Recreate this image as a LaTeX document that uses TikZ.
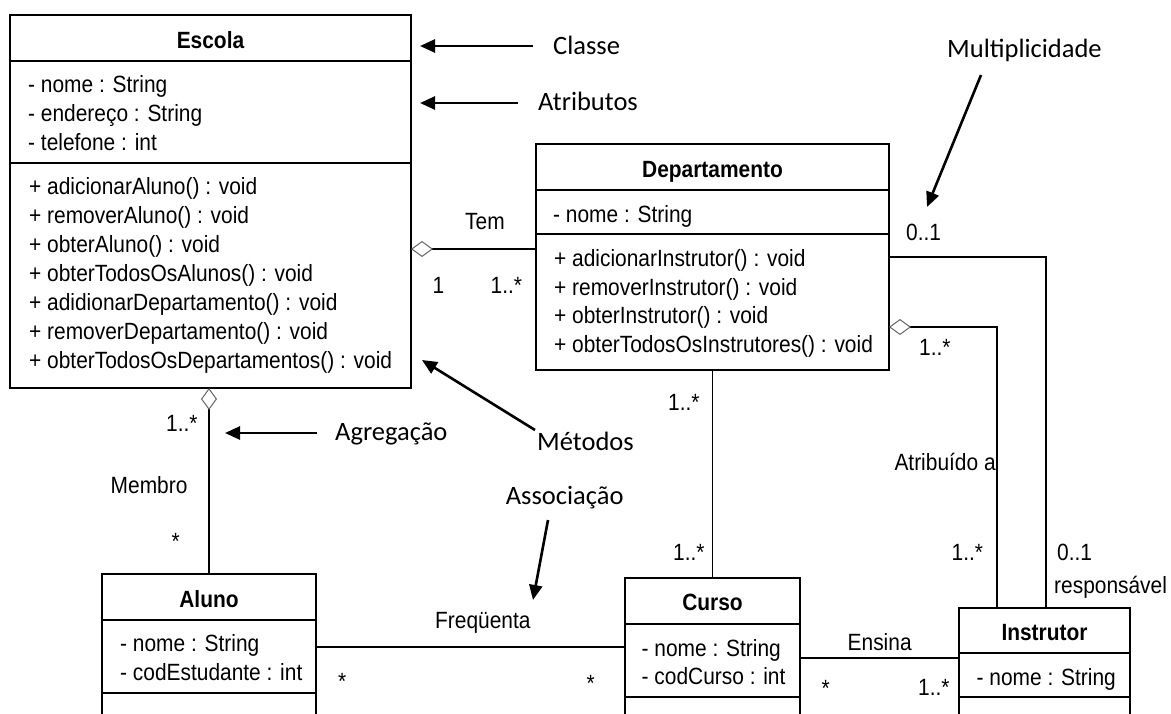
\documentclass[tikz,border=0pt]{standalone}
\usepackage{fontspec}
\setmainfont{Liberation Sans}
\newfontfamily\umlfont[FakeStretch=0.89]{Liberation Sans}
\newfontfamily\notefont{Carlito}
\usetikzlibrary{arrows.meta}
\tikzset{
  uml/.style={font=\umlfont\fontsize{23.5}{27}\selectfont, inner sep=0pt, anchor=base west},
  umltitle/.style={font=\umlfont\bfseries\fontsize{23.5}{27}\selectfont, inner sep=0pt, anchor=base},
  note/.style={font=\notefont\fontsize{26.5}{30}\selectfont, inner sep=0pt, anchor=base west},
  classbox/.style={draw, line width=2.8pt, anchor=north west, inner sep=0pt, outer sep=0pt, rectangle},
  sepline/.style={line width=1.3pt},
  conn/.style={line width=1.3pt},
  agg/.style={conn, {Diamond[open, fill=white, length=22pt, width=16pt, line width=1pt, color=black!60]}-},
  pointer/.style={line width=2.6pt, -{Triangle[length=15pt, width=13pt]}},
}
\begin{document}
\begin{tikzpicture}[x=1pt,y=-1pt]
\useasboundingbox (0,0) rectangle (1171,713);
\clip (0,0) rectangle (1171,713);
\fill[white] (0,0) rectangle (1171,713);

% ---------- Escola ----------
\node[classbox, minimum width=401pt, minimum height=373pt] (escola) at (10,15) {};
\draw[sepline] (escola.west |- 0,61) -- (escola.east |- 0,61);
\draw[sepline] (escola.west |- 0,163) -- (escola.east |- 0,163);
\node[umltitle] (tEscola) at (210.5,48) {Escola};
\node[uml] (e1) at (28,92.5) {- nome : String};
\node[uml] (e2) at (28,121.5) {- endereço : String};
\node[uml] (e3) at (28,150.5) {- telefone : int};
\node[uml] (m1) at (29,194.5) {+ adicionarAluno() : void};
\node[uml] (m2) at (29,223.5) {+ removerAluno() : void};
\node[uml] (m3) at (29,252.5) {+ obterAluno() : void};
\node[uml] (m4) at (29,281.5) {+ obterTodosOsAlunos() : void};
\node[uml] (m5) at (29,310.5) {+ adidionarDepartamento() : void};
\node[uml] (m6) at (29,339.5) {+ removerDepartamento() : void};
\node[uml] (m7) at (29,368.5) {+ obterTodosOsDepartamentos() : void};

% ---------- Departamento ----------
\node[classbox, minimum width=353pt, minimum height=226pt] (dep) at (536,144) {};
\draw[sepline] (dep.west |- 0,190) -- (dep.east |- 0,190);
\draw[sepline] (dep.west |- 0,234) -- (dep.east |- 0,234);
\node[umltitle] (tDep) at (712.5,177) {Departamento};
\node[uml] (d1) at (553,222) {- nome : String};
\node[uml] (dm1) at (554,266.5) {+ adicionarInstrutor() : void};
\node[uml] (dm2) at (554,295) {+ removerInstrutor() : void};
\node[uml] (dm3) at (554,323.5) {+ obterInstrutor() : void};
\node[uml] (dm4) at (554,352) {+ obterTodosOsInstrutores() : void};

% ---------- Aluno ----------
\node[classbox, minimum width=214pt, minimum height=160pt] (aluno) at (102,574) {};
\draw[sepline] (aluno.west |- 0,620) -- (aluno.east |- 0,620);
\draw[sepline] (aluno.west |- 0,693) -- (aluno.east |- 0,693);
\node[umltitle] (tAluno) at (209,607) {Aluno};
\node[uml] (a1) at (120,651.5) {- nome : String};
\node[uml] (a2) at (120,680) {- codEstudante : int};

% ---------- Curso ----------
\node[classbox, minimum width=175pt, minimum height=160pt] (curso) at (625,578) {};
\draw[sepline] (curso.west |- 0,624) -- (curso.east |- 0,624);
\draw[sepline] (curso.west |- 0,697) -- (curso.east |- 0,697);
\node[umltitle] (tCurso) at (712.5,610.5) {Curso};
\node[uml] (c1) at (641.5,656) {- nome : String};
\node[uml] (c2) at (641.5,684) {- codCurso : int};

% ---------- Instrutor ----------
\node[classbox, minimum width=171pt, minimum height=130pt] (instr) at (959,608) {};
\draw[sepline] (instr.west |- 0,653) -- (instr.east |- 0,653);
\draw[sepline] (instr.west |- 0,697) -- (instr.east |- 0,697);
\node[umltitle] (tInstr) at (1044.5,640) {Instrutor};
\node[uml] (i1) at (976.5,685) {- nome : String};

% ---------- Connectors ----------
\draw[agg] (escola.east |- 0,249) -- (dep.west |- 0,249);
\draw[agg] (aluno.north |- escola.south) -- (aluno.north);
\draw[conn] (aluno.east |- 0,647) -- (curso.west |- 0,647);
\draw[conn] (dep.south) -- (curso.north);
\draw[conn] (curso.east |- 0,658) -- (instr.west |- 0,658);
\draw[conn] (dep.east |- 0,257) -| (instr.north -| 1046,0);
\draw[agg] (dep.east |- 0,327) -| (instr.north -| 997,0);

% ---------- Connector labels ----------
\node[uml] (lTem) at (465,229.5) {Tem};
\node[uml] (lTem1) at (432.5,293.3) {1};
\node[uml] (lTem2) at (490.5,293.3) {1..*};
\node[uml] (lD01) at (906,240.5) {0..1};
\node[uml] (lD1n) at (919,355) {1..*};
\node[uml] (lMem1) at (166,431.5) {1..*};
\node[uml] (lMem) at (110.5,493.3) {Membro};
\node[uml] (lMemS) at (171.5,549) {*};
\node[uml] (lFreq) at (435,628) {Freqüenta};
\node[uml] (lFreqA) at (338,689) {*};
\node[uml] (lFreqC) at (586.5,691) {*};
\node[uml] (lCD1) at (668,410) {1..*};
\node[uml] (lCD2) at (673,560) {1..*};
\node[uml] (lEns) at (847.5,650) {Ensina};
\node[uml] (lEnsC) at (821.5,696) {*};
\node[uml] (lEnsI) at (918,695) {1..*};
\node[uml] (lAtr) at (894.3,470) {Atribuído a};
\node[uml] (lAtr1) at (951.5,560) {1..*};
\node[uml] (lR01) at (1057,560) {0..1};
\node[uml] (lResp) at (1054,593) {responsável};

% ---------- Annotations ----------
\node[note] (nClasse) at (553,54) {Classe};
\node[note] (nAtrib) at (538,110) {Atributos};
\node[note] (nMult) at (947,57.3) {Multiplicidade};
\node[note] (nAgreg) at (335,440) {Agregação};
\node[note] (nMet) at (537,450.7) {Métodos};
\node[note] (nAssoc) at (505.7,504) {Associação};

\coordinate (pClasseS) at (533,46);
\coordinate (pClasseE) at (420,46);
\coordinate (pAtribS) at (518,103);
\coordinate (pAtribE) at (420,103);
\coordinate (pMultS) at (981,75);
\coordinate (pMultE) at (927,207);
\coordinate (pAgregS) at (317,433);
\coordinate (pAgregE) at (225,433);
\coordinate (pMetS) at (535,430);
\coordinate (pMetE) at (422,360);
\coordinate (pAssocS) at (548,520);
\coordinate (pAssocE) at (533,600);
\draw[pointer] (pClasseS) -- (pClasseE);
\draw[pointer] (pAtribS) -- (pAtribE);
\draw[pointer] (pMultS) -- (pMultE);
\draw[pointer] (pAgregS) -- (pAgregE);
\draw[pointer] (pMetS) -- (pMetE);
\draw[pointer] (pAssocS) -- (pAssocE);
\end{tikzpicture}
\end{document}
